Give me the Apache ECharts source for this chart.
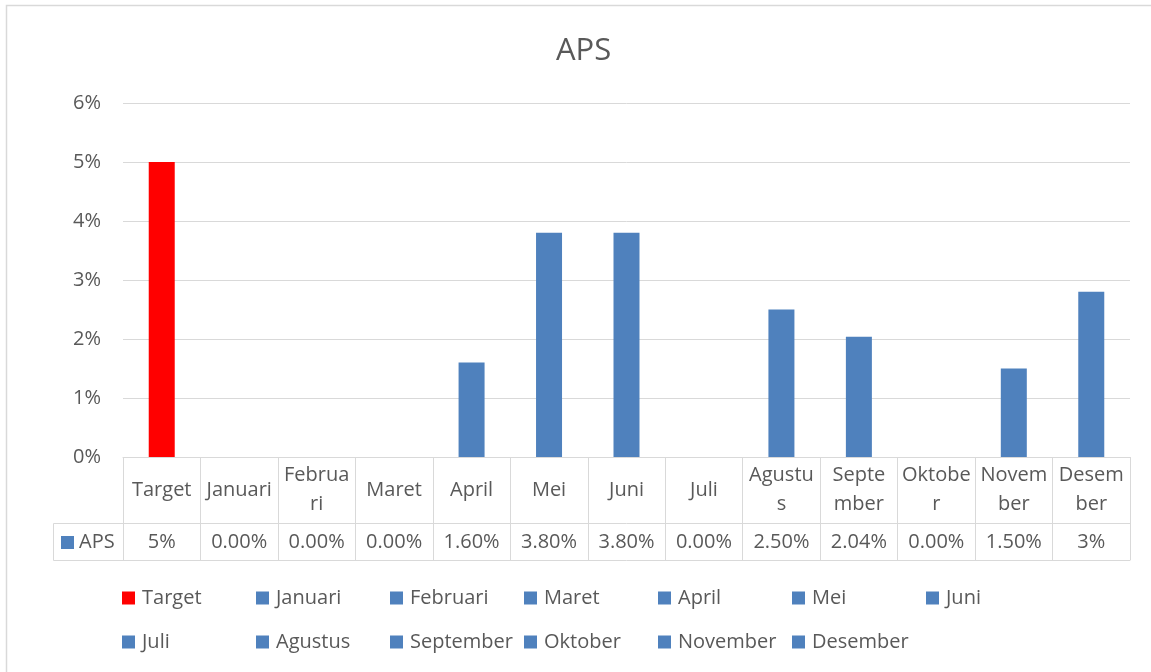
<!DOCTYPE html>
<html>
<head>
<meta charset="utf-8">
<title>APS</title>
<script src="https://cdn.jsdelivr.net/npm/echarts@6/dist/echarts.min.js"></script>
<style>
  html, body { margin: 0; padding: 0; background: #fff; }
  #chart_aps { width: 1151px; height: 672px; }
</style>
</head>
<body>
<div id="chart_aps"></div>
<script>
// data APS per bulan (dalam persen)
var categories = ['Target', 'Januari', 'Februari', 'Maret', 'April', 'Mei', 'Juni',
	'Juli', 'Agustus', 'September', 'Oktober', 'November', 'Desember'];
var apsValues = [5, 0, 0, 0, 1.6, 3.8, 3.8, 0, 2.5, 2.04, 0, 1.5, 2.8];
// jumlah desimal di tabel data
var tableDecimals = [0, 2, 2, 2, 2, 2, 2, 2, 2, 2, 2, 2, 0];
// label header tabel (dibungkus seperti di Excel)
var headerLabels = ['Target', 'Januari', 'Februa\nri', 'Maret', 'April', 'Mei', 'Juni',
	'Juli', 'Agustu\ns', 'Septe\nmber', 'Oktobe\nr', 'Novem\nber', 'Desem\nber'];
var yTicks = [0, 1, 2, 3, 4, 5, 6];

var TARGET_COLOR = '#ff0000';
var MONTH_COLOR = '#4f81bd';
var LINE_COLOR = '#d9d9d9';
var TEXT_COLOR = '#595959';
var FONT = '"Open Sans", "Noto Sans", sans-serif';

function makeChart_aps() {
	var myChart = echarts.init(document.getElementById('chart_aps'));

	var gridBox = { left: 123, right: 21, top: 103, bottom: 215, outerBoundsMode: 'none' };

	// satu series per kategori, ditumpuk supaya batang tetap di tengah
	var series = [];
	for (var i = 0; i < categories.length; i++) {
		var d = [];
		for (var j = 0; j < categories.length; j++) {
			d.push(j === i ? apsValues[i] : null);
		}
		series.push({
			name: categories[i],
			type: 'bar',
			stack: 'aps',
			barWidth: 26,
			xAxisIndex: 0,
			yAxisIndex: 0,
			itemStyle: { color: i === 0 ? TARGET_COLOR : MONTH_COLOR },
			data: d
		});
	}

	var valueLabels = apsValues.map(function (v, i) {
		return v.toFixed(tableDecimals[i]) + '%';
	});

	var legendText = { fontSize: 20, color: TEXT_COLOR, fontFamily: FONT, width: 114, lineHeight: 20, padding: [0, 0, 0, 2] };

	var option = {
		backgroundColor: '#fff',
		animation: false,
		title: {
			text: 'APS',
			left: 551,
			top: 31,
			textStyle: { fontSize: 31, fontWeight: 'normal', color: TEXT_COLOR, fontFamily: FONT }
		},
		legend: [{
			data: categories.slice(0, 7),
			left: 122,
			top: 588,
			padding: 0,
			itemWidth: 13,
			itemHeight: 13,
			itemGap: 0,
			icon: 'rect',
			textStyle: legendText
		}, {
			data: categories.slice(7),
			left: 122,
			top: 632,
			padding: 0,
			itemWidth: 13,
			itemHeight: 13,
			itemGap: 0,
			icon: 'rect',
			textStyle: legendText
		}],
		grid: [gridBox, gridBox, gridBox],
		xAxis: [{
			gridIndex: 0,
			type: 'category',
			data: categories,
			position: 'bottom',
			axisLine: { onZero: false, lineStyle: { color: LINE_COLOR, width: 1 } },
			axisTick: { show: true, interval: 0, length: 103, lineStyle: { color: LINE_COLOR } },
			axisLabel: {
				interval: 0,
				margin: 33,
				verticalAlign: 'middle',
				lineHeight: 29,
				fontSize: 20,
				color: TEXT_COLOR,
				fontFamily: FONT,
				formatter: function (v, idx) { return headerLabels[idx]; }
			}
		}, {
			gridIndex: 1,
			type: 'category',
			data: categories,
			position: 'bottom',
			offset: 66,
			axisLine: { onZero: false, lineStyle: { color: LINE_COLOR, width: 1 } },
			axisTick: { show: false },
			axisLabel: {
				interval: 0,
				margin: 19,
				verticalAlign: 'middle',
				fontSize: 20,
				color: TEXT_COLOR,
				fontFamily: FONT,
				formatter: function (v, idx) { return valueLabels[idx]; }
			}
		}, {
			gridIndex: 2,
			type: 'category',
			data: categories,
			position: 'bottom',
			offset: 103,
			axisLine: { onZero: false, lineStyle: { color: LINE_COLOR, width: 1 } },
			axisTick: { show: false },
			axisLabel: { show: false }
		}],
		yAxis: [{
			gridIndex: 0,
			type: 'value',
			min: yTicks[0],
			max: yTicks[yTicks.length - 1],
			interval: 1,
			axisLine: { show: false },
			axisTick: { show: false },
			splitLine: { lineStyle: { color: LINE_COLOR } },
			axisLabel: {
				margin: 22,
				fontSize: 20,
				color: TEXT_COLOR,
				fontFamily: FONT,
				formatter: '{value}%'
			}
		}, {
			gridIndex: 1, type: 'value', min: 0, max: 6, show: false
		}, {
			gridIndex: 2, type: 'value', min: 0, max: 6, show: false
		}],
		graphic: [
			// bingkai chart
			{ type: 'rect', shape: { x: 6.5, y: 5.5, width: 1160, height: 700 },
				style: { fill: 'none', stroke: LINE_COLOR, lineWidth: 1.5 }, silent: true },
			// sel kiri tabel data
			{ type: 'rect', shape: { x: 53.5, y: 523.5, width: 70, height: 37 },
				style: { fill: 'none', stroke: LINE_COLOR, lineWidth: 1 }, silent: true },
			{ type: 'rect', shape: { x: 61, y: 536, width: 13, height: 13 }, style: { fill: MONTH_COLOR } },
			{ type: 'text', x: 79, y: 542,
				style: { text: 'APS', fontSize: 20, fill: TEXT_COLOR, fontFamily: FONT, verticalAlign: 'middle' } }
		],
		series: series
	};
	myChart.setOption(option);
	window.addEventListener('resize', function () {
		myChart.resize();
	});
}

makeChart_aps();
</script>
</body>
</html>
